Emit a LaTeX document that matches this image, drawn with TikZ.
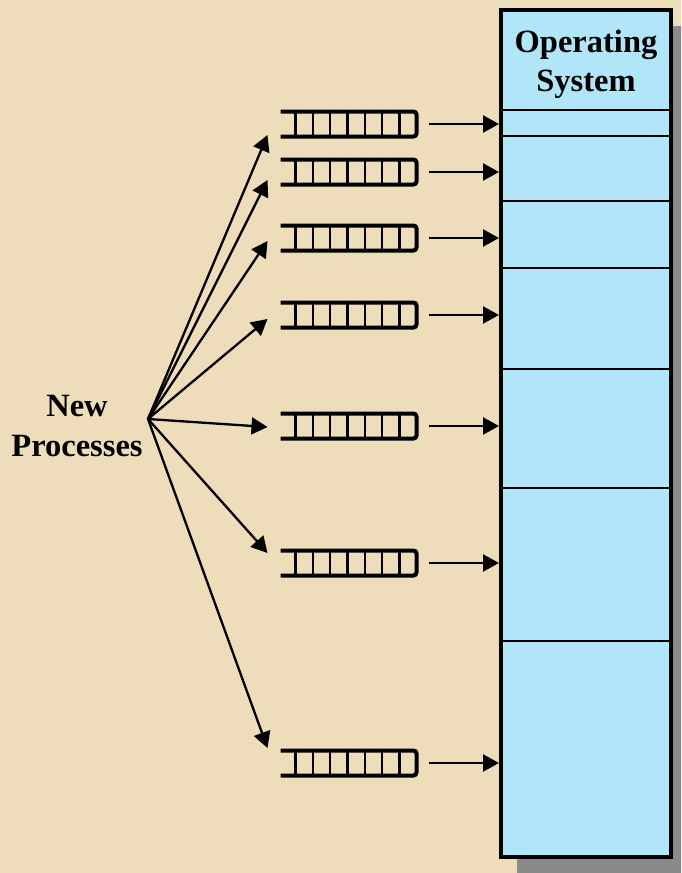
\documentclass[tikz,border=0pt]{standalone}
\usepackage{fontspec}
\setmainfont{Liberation Serif}
\usetikzlibrary{arrows.meta,shadows}
\definecolor{paper}{RGB}{237,221,187}
\definecolor{osblue}{RGB}{176,230,247}
\begin{document}
\begin{tikzpicture}[x=1pt, y=-1pt,
    queue/.style = {rectangle, minimum width=136pt, minimum height=25pt, inner sep=0pt, outer sep=0pt},
    qedge/.style = {line width=4pt, rounded corners=3pt},
    qbar/.style = {line width=2.2pt},
    fan/.style = {line width=2.3pt, -{Triangle[length=16pt, width=17pt]}},
    label/.style = {font=\bfseries\fontsize{32.5}{39.5}\selectfont, align=center, inner sep=0pt}]
    \useasboundingbox (0,0) rectangle (681,873);
    \clip (0,0) rectangle (681,873);
    \fill[paper] (0,0) rectangle (681,873);

    % memory
    \node[draw, line width=4pt, fill=osblue, minimum width=170pt, minimum height=847pt, inner sep=0pt,
          drop shadow={shadow xshift=16pt, shadow yshift=-16pt, fill=black!46, opacity=1}] (os) at (586,433.5) {};
    \foreach \y in {110,136,201,268,369,488,641}
        \draw[line width=2pt] (os.west |- 0,\y) -- (os.east |- 0,\y);
    \node[label] (ostext) at (586,64) {Operating\\System};

    \node[label] (np) at (77,426) {New\\Processes};
    \coordinate (src) at (148,419);

    % queues
    \foreach \i/\y in {1/124,2/172,3/238,4/315,5/426,6/563,7/763} {
        \node[queue] (q\i) at (348.5,\y) {};
        \draw[qedge] (q\i.north west) -- (q\i.north east) -- (q\i.south east) -- (q\i.south west);
        \foreach \k in {0,...,6}
            \draw[qbar] ([xshift={15pt+\k*17.33pt}]q\i.north west) -- ([xshift={15pt+\k*17.33pt}]q\i.south west);
        \draw[fan] ([xshift=12pt]q\i.east) -- (q\i.east -| os.west);
    }

    \foreach \i/\dy in {1/11,2/8,3/3,4/4,5/1,6/-10,7/-15}
        \draw[fan] (src) -- ([shift={(-13,\dy)}]q\i.west);
\end{tikzpicture}
\end{document}
